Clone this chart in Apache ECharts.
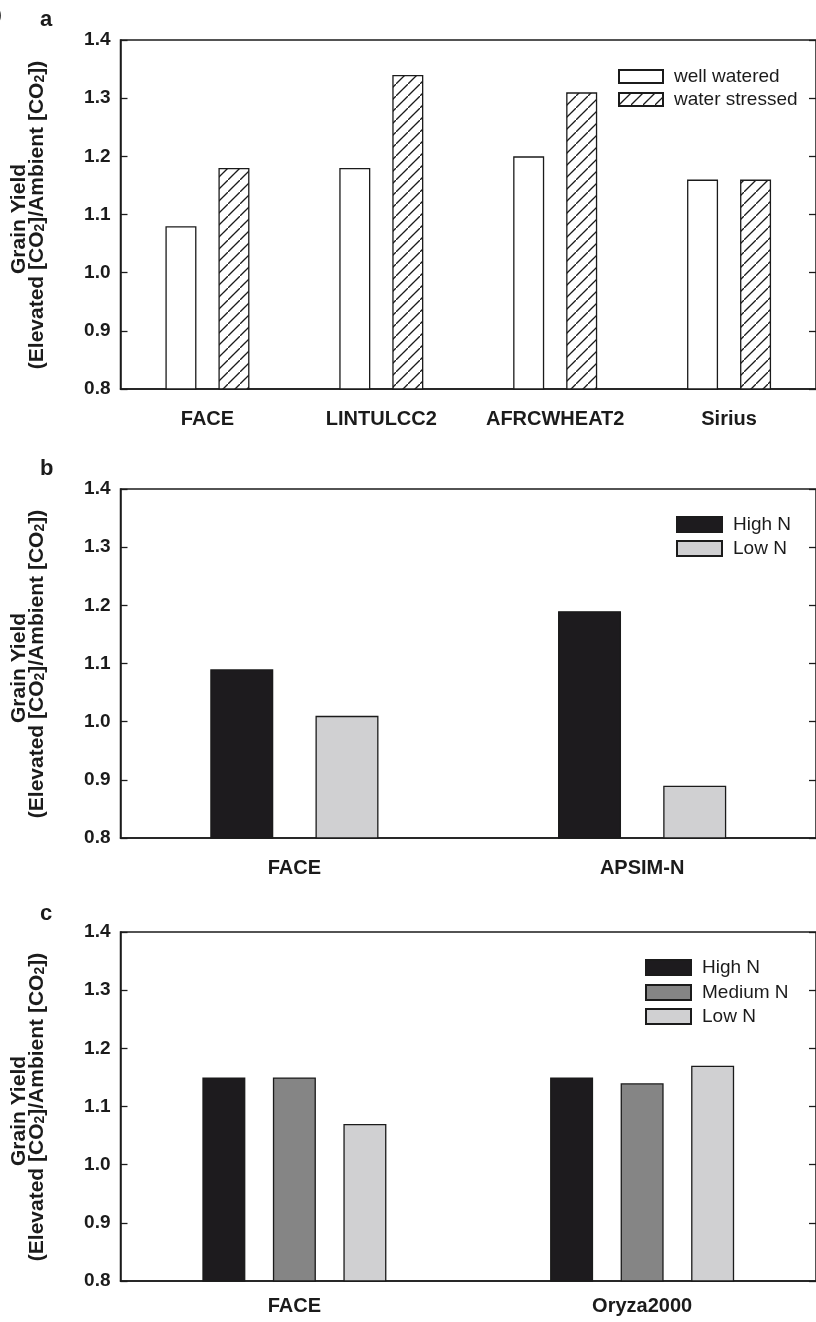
<!DOCTYPE html>
<html>
<head>
<meta charset="utf-8">
<script src="https://cdn.jsdelivr.net/npm/echarts@6/dist/echarts.min.js"></script>
<style>
  html, body { margin: 0; padding: 0; background: #fff; }
  #chart { width: 816px; height: 1322px; }
</style>
</head>
<body>
<div id="chart"></div>
<script>
// Panel a: water treatments
const categoriesA = ['FACE', 'LINTULCC2', 'AFRCWHEAT2', 'Sirius'];
const wellWatered = [1.08, 1.18, 1.20, 1.16];
const waterStressed = [1.18, 1.34, 1.31, 1.16];

// Panel b: nitrogen treatments (two levels)
const categoriesB = ['FACE', 'APSIM-N'];
const highNB = [1.09, 1.19];
const lowNB = [1.01, 0.89];

// Panel c: nitrogen treatments (three levels)
const categoriesC = ['FACE', 'Oryza2000'];
const highNC = [1.15, 1.15];
const mediumNC = [1.15, 1.14];
const lowNC = [1.07, 1.17];

// Value axis range shared by all panels
const yMin = 0.8, yMax = 1.4, yStep = 0.1;

const FONT = '"Liberation Sans", Arial, Helvetica, sans-serif';
const INK = '#1b1b1b';
const C_HIGH = '#1d1b1e';
const C_MED = '#858585';
const C_LOW = '#d0d0d2';

// Diagonal hatch tile for the water-stressed bars
function hatchTile() {
  const s = 12;
  const c = document.createElement('canvas');
  c.width = s; c.height = s;
  const g = c.getContext('2d');
  g.fillStyle = '#ffffff';
  g.fillRect(0, 0, s, s);
  g.strokeStyle = '#1b1b1b';
  g.lineWidth = 1.3;
  g.beginPath();
  g.moveTo(-2, s + 2);
  g.lineTo(s + 2, -2);
  g.stroke();
  return c;
}
const hatch = { image: hatchTile(), repeat: 'repeat' };

const grids = [
  { left: 120.5, top: 40, width: 699, height: 349 },
  { left: 120.5, top: 489, width: 699, height: 349 },
  { left: 120.5, top: 932, width: 699, height: 349 }
].map(g => Object.assign({ show: true, borderColor: INK, borderWidth: 1.5, backgroundColor: 'transparent' }, g));

const labelMargins = [20, 20, 15];
const catLists = [categoriesA, categoriesB, categoriesC];

const xAxes = catLists.map((cats, i) => ({
  type: 'category',
  gridIndex: i,
  data: cats,
  axisLine: { lineStyle: { color: INK, width: 1.5 } },
  axisTick: { alignWithLabel: true, length: 6, lineStyle: { color: INK, width: 1.3 } },
  axisLabel: { interval: 0, fontSize: 20, fontWeight: 'bold', color: INK, fontFamily: FONT, margin: labelMargins[i] }
}));

const yAxes = [];
[0, 1, 2].forEach(i => {
  yAxes.push({
    type: 'value', gridIndex: i, position: 'left',
    min: yMin, max: yMax, interval: yStep,
    axisLine: { show: true, lineStyle: { color: INK, width: 1.5 } },
    axisTick: { show: true, inside: true, length: 7, lineStyle: { color: INK, width: 1.3 } },
    axisLabel: { fontSize: 19, fontWeight: 'bold', color: INK, fontFamily: FONT, margin: 10,
                 formatter: v => v.toFixed(1) },
    splitLine: { show: false }
  });
  yAxes.push({
    type: 'value', gridIndex: i, position: 'right',
    min: yMin, max: yMax, interval: yStep,
    axisLine: { show: false },
    axisTick: { show: true, inside: true, length: 7, lineStyle: { color: INK, width: 1.3 } },
    axisLabel: { show: false },
    splitLine: { show: false }
  });
});

function bar(name, data, gi, color, width, gap) {
  return {
    type: 'bar', name, data,
    xAxisIndex: gi, yAxisIndex: gi * 2,
    barWidth: width, barGap: gap,
    itemStyle: { color, borderColor: INK, borderWidth: 1.3 },
    emphasis: { disabled: true },
    clip: true
  };
}

const series = [
  bar('well watered', wellWatered, 0, '#ffffff', 31, '71%'),
  bar('water stressed', waterStressed, 0, hatch, 31, '71%'),
  bar('High N', highNB, 1, C_HIGH, 63, '67%'),
  bar('Low N', lowNB, 1, C_LOW, 63, '67%'),
  bar('High N', highNC, 2, C_HIGH, 43, '64%'),
  bar('Medium N', mediumNC, 2, C_MED, 43, '64%'),
  bar('Low N', lowNC, 2, C_LOW, 43, '64%')
];

// One legend block per entry so each row sits at its own spot
function legendItem(name, left, top, w, h) {
  return {
    data: [name], left, top, orient: 'vertical', padding: 0,
    itemWidth: w, itemHeight: h, icon: 'rect', selectedMode: false,
    textStyle: { fontSize: 19, color: INK, fontFamily: FONT, lineHeight: h, padding: [0, 0, 0, 6] }
  };
}
const legends = [
  legendItem('well watered', 618, 67, 44, 13),
  legendItem('water stressed', 618, 90, 44, 13),
  legendItem('High N', 676, 515, 45, 15),
  legendItem('Low N', 676, 539, 45, 15),
  legendItem('High N', 645, 958, 45, 15),
  legendItem('Medium N', 645, 983, 45, 15),
  legendItem('Low N', 645, 1007, 45, 15)
];

// Axis titles and panel letters
const titleRich = {
  t: { fontSize: 21, fontWeight: 'bold', fontFamily: FONT, fill: INK, color: INK },
  s: { fontSize: 14, fontWeight: 'bold', fontFamily: FONT, fill: INK, color: INK, lineHeight: 8, verticalAlign: 'bottom' }
};
function yTitle(cy) {
  return [
    { type: 'text', x: 19, y: cy + 4, rotation: Math.PI / 2, silent: true,
      style: { text: 'Grain Yield', fontSize: 21, fontWeight: 'bold', fontFamily: FONT, fill: INK,
               align: 'center', verticalAlign: 'middle' } },
    { type: 'text', x: 37, y: cy, rotation: Math.PI / 2, silent: true,
      style: { text: '{t|(Elevated [CO}{s|2}{t|]/Ambient [CO}{s|2}{t|])}', rich: titleRich,
               fill: INK, align: 'center', verticalAlign: 'middle' } }
  ];
}
function letter(ch, y) {
  return { type: 'text', x: 40, y, silent: true,
    style: { text: ch, fontSize: 22, fontWeight: 'bold', fontFamily: FONT, fill: INK,
             align: 'left', verticalAlign: 'middle' } };
}
const graphics = [].concat(
  yTitle(215), yTitle(664), yTitle(1107),
  [letter('a', 20), letter('b', 469), letter('c', 914),
   { type: 'text', x: -4, y: 15, silent: true,
     style: { text: ')', fontSize: 18, fontFamily: FONT, fill: INK, align: 'left', verticalAlign: 'middle' } }]
);

const chart = echarts.init(document.getElementById('chart'), null, { renderer: 'canvas' });
chart.setOption({
  animation: false,
  backgroundColor: '#ffffff',
  grid: grids,
  xAxis: xAxes,
  yAxis: yAxes,
  legend: legends,
  series,
  graphic: graphics
});
</script>
</body>
</html>
